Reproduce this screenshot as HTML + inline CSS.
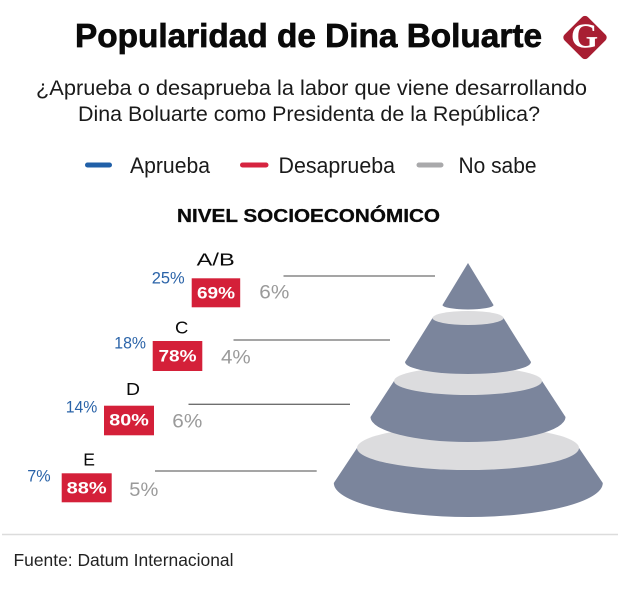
<!DOCTYPE html>
<html>
<head>
<meta charset="utf-8">
<style>
  html,body{margin:0;padding:0;background:#fff;}
  svg{display:block;}
  text{font-family:"Liberation Sans",sans-serif;}
</style>
</head>
<body>
<svg width="620" height="590" viewBox="0 0 620 590" xmlns="http://www.w3.org/2000/svg">
  <rect width="620" height="590" fill="#ffffff"/>

  <!-- Title -->
  <text x="75" y="47" font-size="33" font-weight="bold" fill="#0a0a0a" stroke="#0a0a0a" stroke-width="0.7" textLength="467" lengthAdjust="spacingAndGlyphs">Popularidad de Dina Boluarte</text>

  <!-- Logo -->
  <g transform="translate(585,37.5) rotate(45)">
    <rect x="-16.5" y="-16.5" width="33" height="33" rx="4" ry="4" fill="#a81e32"/>
  </g>
  <text x="584.5" y="47.5" font-family="Liberation Serif, serif" font-size="35" font-weight="bold" fill="#ffffff" text-anchor="middle" style="font-family:'Liberation Serif',serif">G</text>

  <!-- Subtitle -->
  <text x="36" y="95" font-size="21" fill="#1a1a1a" textLength="551" lengthAdjust="spacingAndGlyphs">¿Aprueba o desaprueba la labor que viene desarrollando</text>
  <text x="78" y="121" font-size="21" fill="#1a1a1a" textLength="462" lengthAdjust="spacingAndGlyphs">Dina Boluarte como Presidenta de la República?</text>

  <!-- Legend -->
  <line x1="87.5" y1="165" x2="109.5" y2="165" stroke="#2160a8" stroke-width="5" stroke-linecap="round"/>
  <text x="130" y="173" font-size="22" fill="#1a1a1a" textLength="80" lengthAdjust="spacingAndGlyphs">Aprueba</text>
  <line x1="242.5" y1="165" x2="266" y2="165" stroke="#d6233f" stroke-width="5" stroke-linecap="round"/>
  <text x="278.5" y="173" font-size="22" fill="#1a1a1a" textLength="116.5" lengthAdjust="spacingAndGlyphs">Desaprueba</text>
  <line x1="419" y1="165" x2="441" y2="165" stroke="#a9a9ab" stroke-width="5" stroke-linecap="round"/>
  <text x="458.5" y="173" font-size="22" fill="#1a1a1a" textLength="78" lengthAdjust="spacingAndGlyphs">No sabe</text>

  <!-- Section title -->
  <text x="177" y="222" font-size="18.5" font-weight="bold" fill="#0a0a0a" stroke="#0a0a0a" stroke-width="0.3" textLength="263" lengthAdjust="spacingAndGlyphs">NIVEL SOCIOECONÓMICO</text>

  <!-- Leader lines -->
  <g stroke="#6f6f6f" stroke-width="1.3">
    <line x1="283.5" y1="276" x2="435" y2="276"/>
    <line x1="233.5" y1="340" x2="390" y2="340"/>
    <line x1="188.5" y1="404.3" x2="350" y2="404.3"/>
    <line x1="155" y1="471" x2="316.7" y2="471"/>
  </g>

  <!-- Pyramid / cone -->
  <g>
    <!-- tier 4 -->
    <path d="M357,448 L333.8,483 A134.5,34 0 0 0 602.8,483 L579,448 Z" fill="#7b859c"/>
    <ellipse cx="468" cy="448" rx="111" ry="22" fill="#dcdcde"/>
    <!-- tier 3 -->
    <path d="M394,381 L370.5,417 A97.5,25 0 0 0 565.5,417 L542,381 Z" fill="#7b859c"/>
    <ellipse cx="468" cy="381" rx="74" ry="14" fill="#dcdcde"/>
    <!-- tier 2 -->
    <path d="M432.5,318 L405,362 A63,12 0 0 0 531,362 L503.5,318 Z" fill="#7b859c"/>
    <ellipse cx="468" cy="318" rx="35.5" ry="7" fill="#dcdcde"/>
    <!-- tier 1 -->
    <path d="M468,263 L442.5,305 A25.5,4.5 0 0 0 493.5,305 Z" fill="#7b859c"/>
  </g>

  <!-- A/B -->
  <text x="196.7" y="265.7" font-size="17.5" fill="#0a0a0a" textLength="38" lengthAdjust="spacingAndGlyphs">A/B</text>
  <text x="151.7" y="283.3" font-size="17" fill="#2a63a8" textLength="33" lengthAdjust="spacingAndGlyphs">25%</text>
  <rect x="191.7" y="278.3" width="48.5" height="29" fill="#d42039"/>
  <text x="216" y="298.3" font-size="17" font-weight="bold" fill="#ffffff" text-anchor="middle" textLength="38" lengthAdjust="spacingAndGlyphs">69%</text>
  <text x="259.3" y="298.3" font-size="19" fill="#9a9a9a" textLength="30" lengthAdjust="spacingAndGlyphs">6%</text>

  <!-- C -->
  <text x="175" y="333.3" font-size="17.5" fill="#0a0a0a" textLength="13.3" lengthAdjust="spacingAndGlyphs">C</text>
  <text x="114.3" y="348.3" font-size="17" fill="#2a63a8" textLength="31.7" lengthAdjust="spacingAndGlyphs">18%</text>
  <rect x="152.7" y="341" width="49.6" height="30" fill="#d42039"/>
  <text x="177.5" y="361.5" font-size="17" font-weight="bold" fill="#ffffff" text-anchor="middle" textLength="38" lengthAdjust="spacingAndGlyphs">78%</text>
  <text x="221" y="363.3" font-size="19" fill="#9a9a9a" textLength="29.7" lengthAdjust="spacingAndGlyphs">4%</text>

  <!-- D -->
  <text x="126" y="395" font-size="17.5" fill="#0a0a0a" textLength="14" lengthAdjust="spacingAndGlyphs">D</text>
  <text x="65.7" y="412.3" font-size="17" fill="#2a63a8" textLength="31.6" lengthAdjust="spacingAndGlyphs">14%</text>
  <rect x="104" y="405.7" width="50" height="29.6" fill="#d42039"/>
  <text x="129" y="425.7" font-size="17" font-weight="bold" fill="#ffffff" text-anchor="middle" textLength="39.5" lengthAdjust="spacingAndGlyphs">80%</text>
  <text x="172.3" y="427.3" font-size="19" fill="#9a9a9a" textLength="30" lengthAdjust="spacingAndGlyphs">6%</text>

  <!-- E -->
  <text x="83.3" y="465.7" font-size="17.5" fill="#0a0a0a" textLength="11.7" lengthAdjust="spacingAndGlyphs">E</text>
  <text x="27.3" y="481.7" font-size="17" fill="#2a63a8" textLength="23.4" lengthAdjust="spacingAndGlyphs">7%</text>
  <rect x="61.7" y="473.3" width="50" height="29" fill="#d42039"/>
  <text x="86.7" y="493.3" font-size="17" font-weight="bold" fill="#ffffff" text-anchor="middle" textLength="40" lengthAdjust="spacingAndGlyphs">88%</text>
  <text x="129.3" y="496" font-size="19" fill="#9a9a9a" textLength="29" lengthAdjust="spacingAndGlyphs">5%</text>

  <!-- Separator & source -->
  <line x1="2" y1="534.5" x2="618" y2="534.5" stroke="#dcdcdc" stroke-width="1.5"/>
  <text x="13.5" y="566" font-size="17.5" fill="#222222" textLength="220" lengthAdjust="spacingAndGlyphs">Fuente: Datum Internacional</text>
</svg>
</body>
</html>
